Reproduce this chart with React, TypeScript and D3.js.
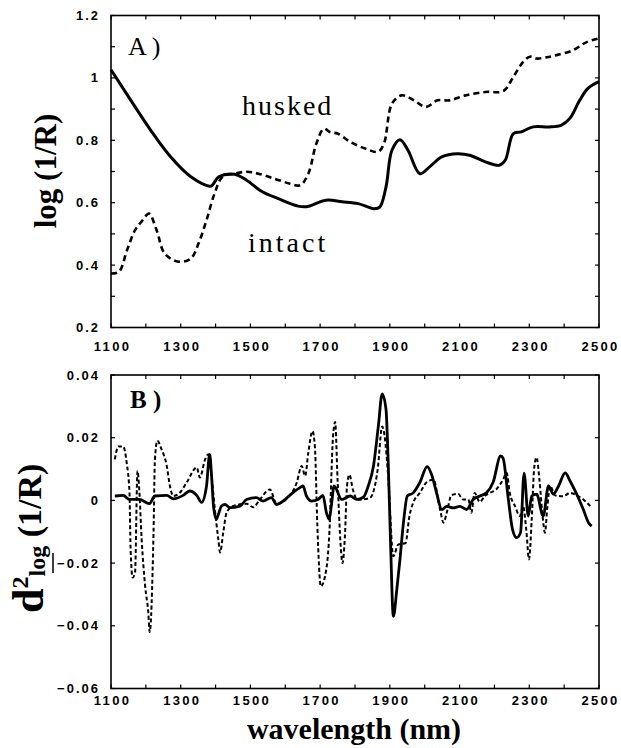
import React from "react";
import * as d3 from "d3";

// ---------- DATA ----------
const xTicks = [1100, 1300, 1500, 1700, 1900, 2100, 2300, 2500];
const yTicksA = [0.2, 0.4, 0.6, 0.8, 1, 1.2];
const yTickLabelsA = ["0.2", "0.4", "0.6", "0.8", "1", "1.2"];
const yTicksB = [-0.06, -0.04, -0.02, 0, 0.02, 0.04];
const yTickLabelsB = ["\u22120.06", "\u22120.04", "\u22120.02", "0", "0.02", "0.04"];

// Panel A: intact (solid)
const intactA: [number, number][] = [
  [1100, 1.026], [1157, 0.928], [1214, 0.832], [1271, 0.747], [1329, 0.683],
  [1386, 0.653], [1409, 0.683], [1454, 0.691], [1489, 0.672], [1534, 0.635],
  [1580, 0.613], [1637, 0.589], [1660, 0.587], [1717, 0.608], [1763, 0.603],
  [1809, 0.597], [1854, 0.581], [1871, 0.586], [1889, 0.651], [1906, 0.768],
  [1929, 0.802], [1952, 0.768], [1986, 0.693], [2014, 0.715], [2049, 0.747],
  [2094, 0.757], [2129, 0.752], [2174, 0.731], [2214, 0.72], [2231, 0.736],
  [2254, 0.821], [2277, 0.827], [2311, 0.843], [2357, 0.843], [2391, 0.848],
  [2417, 0.871], [2445, 0.929], [2469, 0.967], [2500, 0.988],
];

// Panel A: husked (dashed)
const huskedA: [number, number][] = [
  [1100, 0.373], [1123, 0.379], [1146, 0.448], [1169, 0.512], [1191, 0.544],
  [1209, 0.565], [1231, 0.512], [1254, 0.437], [1294, 0.411], [1329, 0.421],
  [1351, 0.469], [1374, 0.544], [1397, 0.629], [1420, 0.683], [1454, 0.693],
  [1489, 0.699], [1523, 0.693], [1569, 0.677], [1614, 0.661], [1643, 0.656],
  [1666, 0.693], [1689, 0.789], [1711, 0.837], [1729, 0.826], [1751, 0.821],
  [1786, 0.795], [1831, 0.773], [1866, 0.763], [1883, 0.789], [1906, 0.917],
  [1934, 0.944], [1969, 0.928], [2003, 0.907], [2037, 0.928], [2071, 0.928],
  [2117, 0.944], [2174, 0.955], [2226, 0.958], [2254, 1.003], [2283, 1.052],
  [2302, 1.068], [2321, 1.062], [2350, 1.066], [2378, 1.073], [2426, 1.089],
  [2463, 1.114], [2500, 1.127],
];

// Panel B: intact 2nd derivative (solid)
const intactB: [number, number][] = [
  [1111, 0.0014], [1135, 0.0016], [1153, 0.0003], [1181, 0.0003], [1210, -0.001],
  [1226, 0.0014], [1260, 0.0016], [1279, 0.0005], [1307, 0.0016], [1326, 0.003],
  [1346, 0.0016], [1360, -0.0006], [1374, 0.0046], [1383, 0.0147], [1389, 0.007],
  [1394, -0.0018], [1402, -0.006], [1408, -0.0045], [1417, -0.0018], [1427, -0.0013],
  [1441, -0.0023], [1470, -0.0018], [1489, 0.0003], [1517, 0.0009], [1536, -0.0002],
  [1560, 0.0009], [1575, -0.0013], [1594, -0.0002], [1622, 0.0025], [1641, 0.004],
  [1651, 0.0046], [1660, 0.0016], [1675, -0.0002], [1694, 0.0003], [1708, 0.0016],
  [1718, -0.0039], [1726, -0.006], [1732, -0.0018], [1740, 0.0046], [1762, 0.0003],
  [1786, 0.0014], [1805, 0.0003], [1824, 0.001], [1838, 0.0046], [1853, 0.011],
  [1867, 0.0237], [1878, 0.034], [1889, 0.029], [1895, 0.0131], [1902, -0.0135],
  [1910, -0.037], [1920, -0.0284], [1929, -0.0188], [1939, -0.0071], [1950, 0.0014],
  [1967, 0.0024], [1986, 0.0057], [2007, 0.0108], [2020, 0.0082], [2034, 0.0024],
  [2049, -0.0029], [2063, -0.0019], [2082, -0.0024], [2101, -0.0019], [2120, -0.0029],
  [2139, 0.0003], [2158, 0.0014], [2177, 0.0024], [2196, 0.0057], [2218, 0.0142],
  [2225, 0.0134], [2240, 0.0003], [2252, -0.0093], [2264, -0.0119], [2275, -0.0102],
  [2285, 0.0087], [2297, -0.005], [2307, 0.0014], [2321, 0.002], [2340, -0.005],
  [2355, 0.0046], [2369, 0.002], [2384, 0.0046], [2403, 0.0088], [2417, 0.0062],
  [2436, 0.002], [2455, -0.0029], [2470, -0.0071], [2479, -0.0082],
];

// Panel B: husked 2nd derivative (dashed)
const huskedB: [number, number][] = [
  [1111, 0.0131], [1121, 0.0172], [1135, 0.0172], [1145, 0.012], [1153, 0.0025],
  [1156, -0.0146], [1162, -0.0246], [1169, -0.023], [1176, 0.0094], [1181, 0.0035],
  [1188, -0.0125], [1198, -0.0274], [1207, -0.0358], [1211, -0.042], [1222, -0.0102],
  [1226, 0.0131], [1233, 0.019], [1245, 0.0163], [1260, 0.011], [1269, 0.0046],
  [1279, 0.0014], [1298, 0.0025], [1317, 0.0057], [1346, 0.0105], [1355, 0.0073],
  [1370, 0.0131], [1379, 0.0147], [1389, 0.007], [1398, -0.0029], [1408, -0.0125],
  [1413, -0.0166], [1422, -0.0102], [1432, -0.0038], [1451, -0.0018], [1489, -0.0011],
  [1508, -0.0022], [1527, 0.0003], [1556, 0.0035], [1575, -0.0011], [1604, 0.0005],
  [1633, 0.0057], [1647, 0.011], [1657, 0.0078], [1666, 0.0152], [1678, 0.0221],
  [1685, 0.017], [1692, -0.0082], [1702, -0.0274], [1714, -0.0242], [1726, -0.0114],
  [1737, 0.0205], [1743, 0.025], [1750, 0.0066], [1759, -0.0147], [1764, -0.02],
  [1771, -0.0115], [1777, 0.0045], [1784, 0.0082], [1794, 0.0034], [1807, 0.0002],
  [1842, 0.0007], [1865, 0.0098], [1878, 0.0236], [1885, 0.0204], [1895, 0.008],
  [1910, -0.0178], [1924, -0.0141], [1945, -0.0136], [1956, -0.0051], [1967, -0.0007],
  [1986, 0.0024], [2005, 0.0057], [2025, 0.0066], [2044, -0.0029], [2054, -0.0071],
  [2063, -0.004], [2077, 0.0017], [2096, 0.0021], [2110, 0.0003], [2125, 0.0003],
  [2134, -0.0039], [2143, 0.0024], [2158, -0.0005], [2172, 0.0014], [2187, 0.0024],
  [2205, 0.0035], [2225, 0.0067], [2235, 0.0088], [2244, 0.0024], [2259, -0.0018],
  [2273, -0.005], [2282, -0.0018], [2292, -0.0102], [2299, -0.0188], [2307, -0.006],
  [2314, 0.0103], [2321, 0.0137], [2329, 0.0067], [2339, -0.006], [2345, -0.0103],
  [2352, -0.0018], [2360, 0.0046], [2374, 0.0016], [2397, 0.0013], [2417, 0.0024],
  [2436, 0.0016], [2455, 0.0003], [2479, -0.0023],
];

// ---------- LAYOUT ----------
const W = 621;
const H = 748;
const left = 111;
const right = 599;
const aTop = 15.5;
const aBottom = 327.5;
const bTop = 375;
const bBottom = 688.5;

const tickFont = "'Liberation Sans', Arial, sans-serif";
const serif = "'Liberation Serif', 'Times New Roman', serif";

export default function App() {
  const x = d3.scaleLinear().domain([1100, 2500]).range([left, right]);
  const yA = d3.scaleLinear().domain([0.2, 1.2]).range([aBottom, aTop]);
  const yB = d3.scaleLinear().domain([-0.06, 0.04]).range([bBottom, bTop]);

  const lineA = d3
    .line<[number, number]>()
    .x((d) => x(d[0]))
    .y((d) => yA(d[1]))
    .curve(d3.curveCatmullRom.alpha(0.5));
  const lineB = d3
    .line<[number, number]>()
    .x((d) => x(d[0]))
    .y((d) => yB(d[1]))
    .curve(d3.curveMonotoneX);

  const minorX = d3.range(1100, 2501, 100);
  const minorYA = d3.range(0.2, 1.2001, 0.1);
  const minorYB = d3.range(-0.06, 0.0401, 0.02);
  const tl = 4;

  const frame = (top: number, bottom: number, ys: number[], yScale: any) => (
    <g>
      <rect x={left} y={top} width={right - left} height={bottom - top} fill="none" stroke="#000" strokeWidth={1.6} />
      {minorX.map((v, i) => (
        <g key={"x" + i}>
          <line x1={x(v)} x2={x(v)} y1={bottom} y2={bottom - tl} stroke="#000" strokeWidth={1.2} />
          <line x1={x(v)} x2={x(v)} y1={top} y2={top + tl} stroke="#000" strokeWidth={1.2} />
        </g>
      ))}
      {ys.map((v, i) => (
        <g key={"y" + i}>
          <line x1={left} x2={left + tl} y1={yScale(v)} y2={yScale(v)} stroke="#000" strokeWidth={1.2} />
          <line x1={right} x2={right - tl} y1={yScale(v)} y2={yScale(v)} stroke="#000" strokeWidth={1.2} />
        </g>
      ))}
    </g>
  );

  const xLabels = (baseY: number) =>
    xTicks.map((v) => (
      <text
        key={v}
        x={x(v) + 1.5}
        y={baseY}
        textAnchor="middle"
        fontFamily={tickFont}
        fontWeight="bold"
        fontSize={13}
        letterSpacing={2.3}
      >
        {v}
      </text>
    ));

  return (
    <svg width={W} height={H} style={{ position: "absolute", left: 0, top: 0, background: "#fff" }}>
      <rect x={0} y={0} width={W} height={H} fill="#fff" />
      {/* Panel A */}
      {frame(aTop, aBottom, minorYA, yA)}
      {yTicksA.map((v, i) => (
        <text
          key={v}
          x={100}
          y={yA(v) + 4.5}
          textAnchor="end"
          fontFamily={tickFont}
          fontWeight="bold"
          fontSize={13}
          letterSpacing={2}
        >
          {yTickLabelsA[i]}
        </text>
      ))}
      {xLabels(351)}
      <path d={lineA(intactA) || ""} fill="none" stroke="#000" strokeWidth={3} strokeLinejoin="round" />
      <path d={lineA(huskedA) || ""} fill="none" stroke="#000" strokeWidth={2.6} strokeDasharray="6,4" />
      <text x={128} y={55} fontFamily={serif} fontSize={26}>
        A )
      </text>
      <text x={242} y={115} fontFamily={serif} fontSize={28} letterSpacing={2}>
        husked
      </text>
      <text x={248} y={252} fontFamily={serif} fontSize={28} letterSpacing={3}>
        intact
      </text>
      <text
        transform={`translate(56, 171) rotate(-90)`}
        textAnchor="middle"
        fontFamily={serif}
        fontWeight="bold"
        fontSize={31}
      >
        log (1/R)
      </text>

      {/* Panel B */}
      {frame(bTop, bBottom, minorYB, yB)}
      {yTicksB.map((v, i) => (
        <text
          key={v}
          x={100}
          y={yB(v) + 4.5}
          textAnchor="end"
          fontFamily={tickFont}
          fontWeight="bold"
          fontSize={13}
          letterSpacing={2}
        >
          {yTickLabelsB[i]}
        </text>
      ))}
      {xLabels(705)}
      <path d={lineB(huskedB) || ""} fill="none" stroke="#000" strokeWidth={2} strokeDasharray="4,2.5" />
      <path d={lineB(intactB) || ""} fill="none" stroke="#000" strokeWidth={2.8} strokeLinejoin="round" />
      <text x={130} y={408} fontFamily={serif} fontWeight="bold" fontSize={25}>
        B )
      </text>
      <text transform={`translate(43, 613) rotate(-90)`} fontFamily={serif} fontWeight="bold">
        <tspan fontSize={44}>d</tspan>
        <tspan fontSize={24} dy={-15}>2</tspan>
        <tspan fontSize={24} dy={17}>log</tspan>
        <tspan fontSize={34} dy={-4}> (1/R)</tspan>
      </text>
      <line x1={53} x2={53} y1={553} y2={573} stroke="#000" strokeWidth={1.5} />

      {/* X axis title */}
      <text x={354} y={739} textAnchor="middle" fontFamily={serif} fontWeight="bold" fontSize={30}>
        wavelength (nm)
      </text>
    </svg>
  );
}
